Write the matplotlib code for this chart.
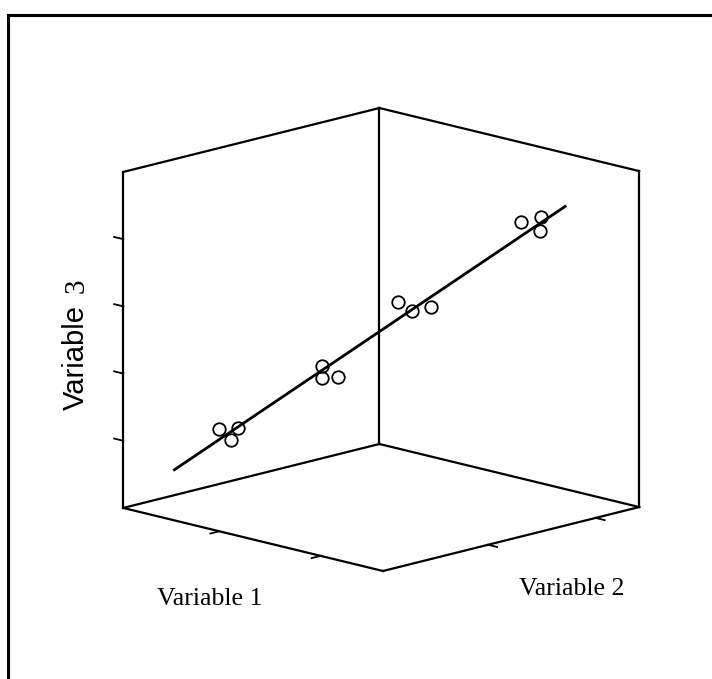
import numpy as np
import matplotlib
matplotlib.use("Agg")
import matplotlib.pyplot as plt
from matplotlib.patches import Rectangle

# Observations (three variables measured on the same 0-10 scale)
var1 = [1.18, 1.99, 2.01, 4.09, 4.24, 5.01, 5.01, 5.47, 6.31, 7.51, 8.04, 8.05]
var2 = [2.54, 2.45, 2.16, 3.60, 3.45, 3.32, 5.63, 5.74, 5.62, 7.91, 8.17, 8.09]
var3 = [2.10, 2.30, 2.00, 4.30, 4.00, 4.20, 6.00, 5.80, 6.10, 8.40, 8.60, 8.20]

# End points of the fitted line
fit_v1 = [0.64, 8.69]
fit_v2 = [1.35, 8.44]
fit_v3 = [1.00, 9.00]

axis_min, axis_max = 0.0, 10.0
xticks = [3.7, 7.6]
yticks = [4.1, 8.3]
zticks = [2.0, 4.0, 6.0, 8.0]

axis_labels = ["Variable 1", "Variable 2", "Variable", "3"]

W, H = 712, 679
fig = plt.figure(figsize=(W / 100, H / 100), dpi=100)
fig.patch.set_facecolor("white")

ax = fig.add_axes([0, 0, 1, 1], projection="3d", proj_type="ortho")
ax.view_init(elev=14.25, azim=-45.4)
ax.set_box_aspect((1, 1, 0.95))
ax.set_xlim(axis_min, axis_max)
ax.set_ylim(axis_min, axis_max)
ax.set_zlim(axis_min, axis_max)
ax.set_axis_off()

lo, hi = axis_min, axis_max
edge_kw = dict(color="black", lw=1.6, solid_capstyle="projecting")

# Box frame: the three visible vertical edges, back floor edges, front floor edges, back top edges
for (x, y) in [(lo, lo), (lo, hi), (hi, hi)]:
    ax.plot([x, x], [y, y], [lo, hi], **edge_kw)
ax.plot([lo, lo], [lo, hi], [lo, lo], **edge_kw)
ax.plot([lo, hi], [hi, hi], [lo, lo], **edge_kw)
ax.plot([lo, hi], [lo, lo], [lo, lo], **edge_kw)
ax.plot([hi, hi], [lo, hi], [lo, lo], **edge_kw)
ax.plot([lo, lo], [lo, hi], [hi, hi], **edge_kw)
ax.plot([lo, hi], [hi, hi], [hi, hi], **edge_kw)

# Tick marks
tl = 0.035 * (hi - lo)
tick_kw = dict(color="black", lw=1.3)
for z in zticks:
    ax.plot([lo, lo - tl], [lo, lo], [z, z], **tick_kw)
for x in xticks:
    ax.plot([x, x], [lo, lo - tl], [lo, lo], **tick_kw)
for y in yticks:
    ax.plot([hi, hi + tl], [y, y], [lo, lo], **tick_kw)

# Fitted line and observations
ax.plot(fit_v1, fit_v2, fit_v3, color="black", lw=2.0)
ax.plot(var1, var2, var3, ls="none", marker="o", ms=9, mfc="none",
        mec="black", mew=1.3)

# Place the projected box at its spot on the page
fig.canvas.draw()


def to_px(x, y, z):
    M = ax.get_proj()
    v = M @ np.array([x, y, z, 1.0])
    return ax.transData.transform([v[0] / v[3], v[1] / v[3]])


Lp = to_px(lo, lo, lo)
Rp = to_px(hi, hi, lo)
Fp = to_px(hi, lo, lo)
s = (637 - 121) / (Rp[0] - Lp[0])
bb = ax.get_position()
cx, cy = (bb.x0 + bb.x1) / 2 * W, (bb.y0 + bb.y1) / 2 * H
tx, ty = 383, H - 571
ncx = tx - s * (Fp[0] - cx)
ncy = ty - s * (Fp[1] - cy)
nw, nh = bb.width * W * s, bb.height * H * s
ax.set_position([(ncx - nw / 2) / W, (ncy - nh / 2) / H, nw / W, nh / H])

# Axis titles
serif = ["Liberation Serif", "DejaVu Serif"]
sans = ["Liberation Sans", "DejaVu Sans"]
fig.text(210 / W, 1 - 599 / H, axis_labels[0], family=serif, fontsize=18.5,
         ha="center", va="center")
fig.text(572 / W, 1 - 589 / H, axis_labels[1], family=serif, fontsize=18.5,
         ha="center", va="center")
fig.text(76 / W, 1 - 357 / H, axis_labels[2], family=sans, fontsize=21,
         rotation=90, ha="center", va="center")
fig.text(77 / W, 1 - 286 / H, axis_labels[3], family=serif, fontsize=21,
         rotation=90, ha="center", va="center")

# Outer border
fig.add_artist(Rectangle((8 / W, -0.1), 1.2, (H - 15) / H + 0.1,
                         transform=fig.transFigure, fill=False,
                         lw=2.2, ec="black"))

fig.savefig("out.png", dpi=100, facecolor="white")
